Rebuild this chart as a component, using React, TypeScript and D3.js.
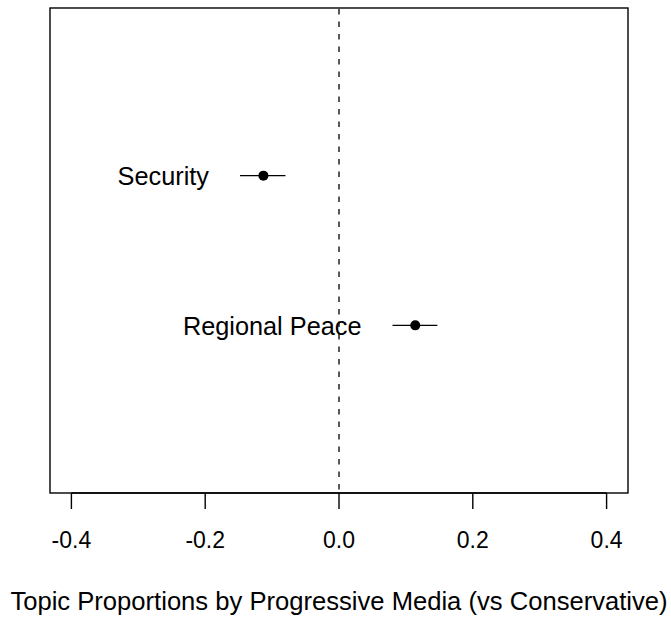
import React from "react";
import * as d3 from "d3";

const topics = ["Security", "Regional Peace"];
const estimates = [-0.113, 0.114];
const lower = [-0.148, 0.080];
const upper = [-0.080, 0.147];
const positions = [2, 1];
const xTicks = [-0.4, -0.2, 0.0, 0.2, 0.4];
const xLabel = "Topic Proportions by Progressive Media (vs Conservative)";

const W = 671;
const H = 619;
const box = { left: 50, right: 628, top: 8, bottom: 493 };
const FONT = "'Liberation Sans', Arial, sans-serif";

export default function App() {
  const x = d3.scaleLinear().domain([-0.432, 0.432]).range([box.left, box.right]);
  const y = d3.scaleLinear().domain([-0.12, 3.12]).range([box.bottom, box.top]);
  return (
    <svg width={W} height={H} style={{ position: "absolute", left: 0, top: 0 }}>
      <rect x={0} y={0} width={W} height={H} fill="#fff" />
      <rect
        x={box.left}
        y={box.top}
        width={box.right - box.left}
        height={box.bottom - box.top}
        fill="none"
        stroke="#000"
        strokeWidth={1.4}
      />
      <line
        x1={x(0)}
        x2={x(0)}
        y1={box.top}
        y2={box.bottom}
        stroke="#000"
        strokeWidth={1.3}
        strokeDasharray="5.5,7"
        strokeDashoffset={-1}
      />
      {topics.map((t, i) => (
        <g key={t}>
          <line
            x1={x(lower[i])}
            x2={x(upper[i])}
            y1={y(positions[i])}
            y2={y(positions[i])}
            stroke="#000"
            strokeWidth={1.4}
          />
          <circle cx={x(estimates[i])} cy={y(positions[i])} r={5} fill="#000" />
          <text
            x={x(lower[i]) - 31}
            y={y(positions[i]) + 9.5}
            textAnchor="end"
            fontFamily={FONT}
            fontSize={25.3}
            fill="#000"
          >
            {t}
          </text>
        </g>
      ))}
      <line x1={x(-0.4)} x2={x(0.4)} y1={box.bottom} y2={box.bottom} stroke="#000" strokeWidth={1.4} />
      {xTicks.map((v) => (
        <g key={v}>
          <line x1={x(v)} x2={x(v)} y1={box.bottom} y2={box.bottom + 16} stroke="#000" strokeWidth={1.4} />
          <text x={x(v)} y={548} textAnchor="middle" fontFamily={FONT} fontSize={23} fill="#000">
            {v.toFixed(1)}
          </text>
        </g>
      ))}
      <text x={x(0)} y={610} textAnchor="middle" fontFamily={FONT} fontSize={25.6} fill="#000">
        {xLabel}
      </text>
    </svg>
  );
}
